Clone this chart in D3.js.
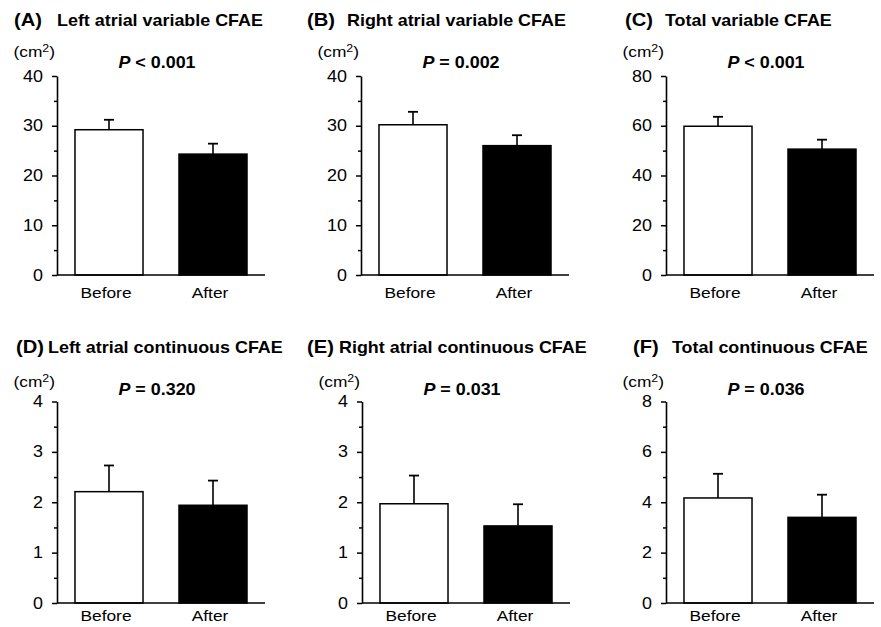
<!DOCTYPE html>
<html>
<head>
<meta charset="utf-8">
<script src="https://cdn.jsdelivr.net/npm/d3@7"></script>
<style>
body { margin: 0; background: #fff; }
svg text { font-family: Arial, "Liberation Sans", sans-serif; fill: #000; }
</style>
</head>
<body>
<div class="container"></div>
<script>
// chart values
var categories = ["Before", "After"];
var panelLetters = ["(A)", "(B)", "(C)", "(D)", "(E)", "(F)"];
var panelTitles = ["Left atrial variable CFAE", "Right atrial variable CFAE", "Total variable CFAE",
	"Left atrial continuous CFAE", "Right atrial continuous CFAE", "Total continuous CFAE"];
var pSigns = ["<", "=", "<", "=", "=", "="];
var pValues = ["0.001", "0.002", "0.001", "0.320", "0.031", "0.036"];
var beforeMeans = [29.2, 30.2, 59.8, 2.21, 1.97, 4.17];
var afterMeans = [24.3, 26.0, 50.6, 1.94, 1.53, 3.40];
var beforeSD = [2.0, 2.6, 3.8, 0.52, 0.56, 0.96];
var afterSD = [2.1, 2.1, 3.8, 0.49, 0.43, 0.90];
var yMax = [40, 40, 80, 4, 4, 8];
var yStep = [10, 10, 20, 1, 1, 2];

// layout (not data)
var W = 881, H = 627;
var axisX = [57, 361, 666, 57, 362, 666];
var rowTop = [76, 401.5], rowBottom = [275, 603];
var titleBase = [26, 353], pBase = [68, 395], unitBase = [57, 387];
var catBase = [298, 621];
var letterDx = [-43, -54, -41, -41, -55, -33];
var titleDx = [0, -14, -1, -9, -23, 6];
var plotW = 208;
var SX = 1.12; // glyphs in the picture are slightly wide

var svg = d3.select(".container").append("svg")
	.attr("width", W).attr("height", H);

// text with horizontal stretch
function addText(g, x, y, size, weight, anchor) {
	return g.append("text")
		.attr("transform", "translate(" + x + "," + y + ") scale(" + SX + ",1)")
		.attr("text-anchor", anchor || "start")
		.style("font-size", size + "px")
		.style("font-weight", weight || "normal");
}

function drawPanel(i) {
	var row = i < 3 ? 0 : 1;
	var x0 = axisX[i];
	var g = svg.append("g").attr("transform", "translate(" + x0 + ",0)");

	var x = d3.scaleBand().domain(categories).range([0, plotW])
		.paddingInner(0.346).paddingOuter(0.173);
	var y = d3.scaleLinear().domain([0, yMax[i]]).range([rowBottom[row], rowTop[row]]);

	var major = d3.range(0, yMax[i] + yStep[i] / 2, yStep[i]);
	var minor = d3.range(yStep[i] / 2, yMax[i], yStep[i]);

	// title
	addText(g, letterDx[i], titleBase[row], 18, "bold").text(panelLetters[i]);
	addText(g, titleDx[i], titleBase[row], 16, "bold").text(panelTitles[i]);

	// unit
	var u = addText(g, -2, unitBase[row], 15.5, "normal", "end");
	u.append("tspan").text("(cm");
	u.append("tspan").attr("dy", -5).style("font-size", "11px").text("2");
	u.append("tspan").attr("dy", 5).text(")");

	// p value
	var p = addText(g, 100, pBase[row], 16, "bold", "middle");
	p.append("tspan").style("font-style", "italic").text("P");
	p.append("tspan").text(" " + pSigns[i] + " " + pValues[i]);

	// bars
	var vals = [beforeMeans[i], afterMeans[i]];
	var sds = [beforeSD[i], afterSD[i]];
	var cap = 10;

	categories.forEach(function(c, k) {
		var cx = x(c) + x.bandwidth() / 2;
		g.append("line")
			.attr("x1", cx).attr("x2", cx)
			.attr("y1", y(vals[k])).attr("y2", y(vals[k] + sds[k]))
			.style("stroke", "#000").style("stroke-width", 1.6);
		g.append("line")
			.attr("x1", cx - cap / 2).attr("x2", cx + cap / 2)
			.attr("y1", y(vals[k] + sds[k])).attr("y2", y(vals[k] + sds[k]))
			.style("stroke", "#000").style("stroke-width", 1.8);
		g.append("rect")
			.attr("x", x(c)).attr("width", x.bandwidth())
			.attr("y", y(vals[k])).attr("height", y(0) - y(vals[k]))
			.style("fill", k == 0 ? "#fff" : "#000")
			.style("stroke", "#000").style("stroke-width", 1.5);

		addText(g, cx - 3, catBase[row], 15.5, "normal", "middle").text(c);
	});

	// y axis, major and minor ticks
	var ax = g.append("g")
		.call(d3.axisLeft(y).tickValues(major).tickSize(5).tickSizeOuter(0)
			.tickPadding(9).tickFormat(d3.format("d")));
	g.append("g")
		.call(d3.axisLeft(y).tickValues(minor).tickSize(3).tickSizeOuter(0).tickFormat(""))
		.select(".domain").remove();
	g.selectAll(".tick line").style("stroke", "#000").style("stroke-width", 1.5);
	ax.select(".domain").style("stroke", "#000").style("stroke-width", 1.6);
	ax.selectAll(".tick text")
		.attr("font-family", null).attr("font-size", null)
		.style("font-size", "16px")
		.attr("transform", "translate(-14,0) scale(" + SX + ",1)")
		.attr("x", 0);

	// x axis line
	g.append("line")
		.attr("x1", 0).attr("x2", plotW)
		.attr("y1", y(0)).attr("y2", y(0))
		.style("stroke", "#000").style("stroke-width", 1.6);
}

for (var i = 0; i < 6; i++) drawPanel(i);
</script>
</body>
</html>
